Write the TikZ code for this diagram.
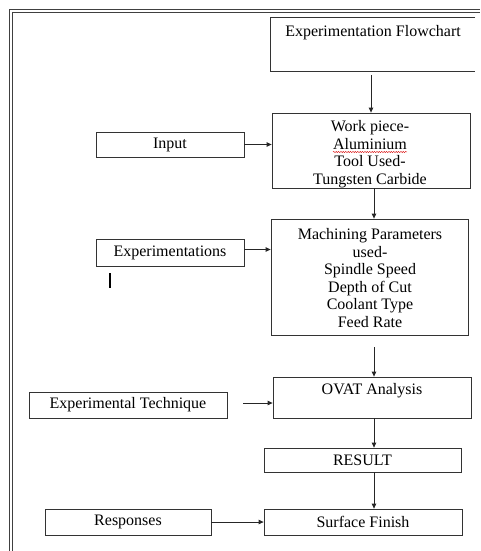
\documentclass[tikz,border=0pt]{standalone}
\usepackage{fontspec}
\setmainfont{Liberation Serif}
\usetikzlibrary{arrows.meta,decorations.pathmorphing}
\begin{document}
\begin{tikzpicture}[x=1pt,y=-1pt,
  box/.style={draw=black!80, line width=0.8pt, inner sep=0pt, align=center},
  txt/.style={inner sep=0pt, align=center, font=\fontsize{16}{17.6}\selectfont},
  arr/.style={draw=black!85, line width=0.8pt, -{Triangle[length=5pt,width=4.5pt]}},
  frame/.style={draw=black!75, line width=1pt}]
\useasboundingbox[fill=white] (0,0) rectangle (480,551);

% double page frame along the left and top
\draw[frame] (9,551) -- (9,10) -- (480,10);
\draw[frame] (12,551) -- (12,12.5) -- (480,12.5);

% title box, open on the right
\node[minimum width=204pt, minimum height=53pt, inner sep=0pt] (title) at (373,44.5) {};
\draw[draw=black!80, line width=0.8pt] (title.north east) -- (title.north west) -- (title.south west) -- (title.south east);
\node[txt, below=7pt] at (title.north) {Experimentation Flowchart};

% main column
\node[box, minimum width=198pt, minimum height=75pt] (work) at (371,150.5) {};
\node[txt] (worktxt) at (370,154) {Work piece-\\Aluminium\\Tool Used-\\Tungsten Carbide};
\draw[red!85!black, line width=0.4pt, decorate, decoration={snake, amplitude=0.6pt, segment length=2.4pt}] (333,152) -- (407,152);

\node[box, minimum width=197pt, minimum height=116pt] (mach) at (369.5,277) {};
\node[txt] (machtxt) at (370,278) {Machining Parameters\\used-\\Spindle Speed\\Depth of Cut\\Coolant Type\\Feed Rate};

\node[box, minimum width=198pt, minimum height=41pt] (ovat) at (372,397.5) {};
\node[txt, below=7pt] at (ovat.north) {OVAT Analysis};

\node[box, minimum width=197pt, minimum height=24pt, font=\fontsize{16}{17.6}\selectfont] (result) at (362.5,460) {RESULT};
\node[box, minimum width=198pt, minimum height=26pt, font=\fontsize{16}{17.6}\selectfont] (surf) at (363,522) {Surface Finish};

% side boxes
\node[box, minimum width=148pt, minimum height=25pt, font=\fontsize{16}{17.6}\selectfont] (input) at (170,144.5) {Input};
\node[box, minimum width=148pt, minimum height=27pt, font=\fontsize{16}{17.6}\selectfont] (expts) at (170,252.5) {Experimentations};
\node[box, minimum width=198pt, minimum height=26pt, font=\fontsize{16}{17.6}\selectfont] (tech) at (128,405) {Experimental Technique};
\node[box, minimum width=166pt, minimum height=26pt, font=\fontsize{16}{17.6}\selectfont] (resp) at (128,522) {Responses};

% text cursor mark
\draw[line width=1.6pt] (110,273) -- (110,288);

% free starting points of the detached arrows
\coordinate (machout) at ([xshift=4.5pt,yshift=-12pt]mach.south);
\coordinate (techout) at ([xshift=16pt,yshift=2pt]tech.east);

% vertical connectors
\draw[arr] ([yshift=-4pt]title.south -| work.north) -- (work.north);
\draw[arr] ([xshift=3pt]work.south) -- ([xshift=3pt]work.south |- mach.north);
\draw[arr] (machout) -- (machout |- ovat.north);
\draw[arr] ([xshift=2pt]ovat.south) -- ([xshift=2pt]ovat.south |- result.north);
\draw[arr] ([xshift=11.5pt]result.south) -- ([xshift=11.5pt]result.south |- surf.north);

% horizontal connectors
\draw[arr] (input.east) -- (input.east -| work.west);
\draw[arr] ([yshift=3pt]expts.east) -- ([yshift=3pt]expts.east -| mach.west);
\draw[arr] (techout) -- (techout -| ovat.west);
\draw[arr] (resp.east) -- (resp.east -| surf.west);
\end{tikzpicture}
\end{document}
